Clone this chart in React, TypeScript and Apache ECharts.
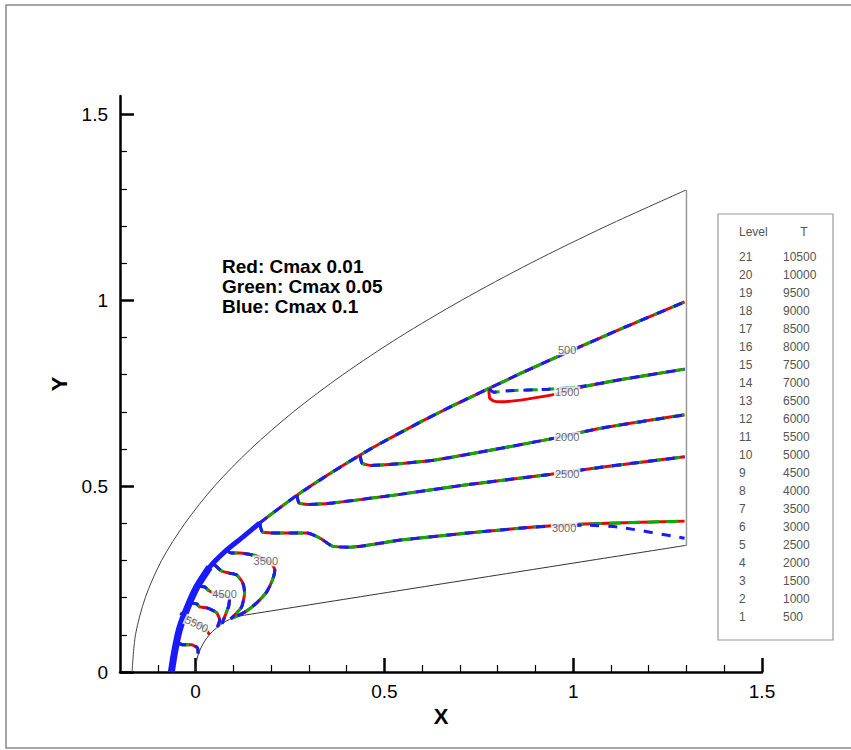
import React, { useEffect, useRef } from "react";
import * as echarts from "echarts";

// ---- axes ----
const X_MAJOR = [0, 0.5, 1, 1.5];
const X_MAJOR_LABELS = ["0", "0.5", "1", "1.5"];
const X_MINOR = [-0.1, 0.1, 0.2, 0.3, 0.4, 0.6, 0.7, 0.8, 0.9, 1.1, 1.2, 1.3, 1.4];
const Y_MAJOR = [0, 0.5, 1, 1.5];
const Y_MAJOR_LABELS = ["0", "0.5", "1", "1.5"];
const Y_MINOR = [0.1, 0.2, 0.3, 0.4, 0.6, 0.7, 0.8, 0.9, 1.1, 1.2, 1.3, 1.4];

// ---- domain boundaries ----
const OUTER_BOUNDARY = [
  [-0.168, 0], [-0.159, 0.1], [-0.133, 0.2], [-0.09, 0.3], [-0.028, 0.4], [0.05, 0.5],
  [0.146, 0.6], [0.259, 0.7], [0.39, 0.8], [0.538, 0.9], [0.704, 1.0], [0.887, 1.1],
  [1.088, 1.2], [1.299, 1.297],
];
const OUTFLOW_BOUNDARY = [[1.3, 0.341], [1.3, 1.297]];
const BODY = [
  [0, 0], [0.005, 0.04], [0.02, 0.076], [0.04, 0.104], [0.06, 0.122], [0.08, 0.136],
  [0.1, 0.146], [0.13, 0.153], [1.3, 0.341],
];

// ---- temperature contours ----
const C500_SHOCK = [
  [-0.064, 0], [-0.056, 0.051], [-0.043, 0.113], [-0.024, 0.167], [0.003, 0.228],
  [0.037, 0.282], [0.082, 0.328], [0.125, 0.363], [0.17, 0.401], [0.269, 0.476],
  [0.356, 0.534], [0.436, 0.584], [0.489, 0.615], [0.596, 0.673], [0.684, 0.718],
  [0.777, 0.763], [0.862, 0.804], [0.968, 0.853], [1.04, 0.885], [1.128, 0.924],
  [1.295, 0.996],
];
const C1500_RED = [
  [0.777, 0.763], [0.779, 0.737], [0.79, 0.729], [0.809, 0.727], [0.941, 0.745],
  [1.021, 0.766], [1.128, 0.787], [1.295, 0.815],
];
const C1500_BLUE = [
  [0.777, 0.763], [0.79, 0.753], [0.83, 0.757], [0.934, 0.761], [1.021, 0.768],
  [1.128, 0.787], [1.295, 0.815],
];
const C2000 = [
  [0.436, 0.584], [0.441, 0.562], [0.463, 0.556], [0.63, 0.57], [0.809, 0.602],
  [0.934, 0.626], [1.074, 0.656], [1.295, 0.692],
];
const C2500 = [
  [0.269, 0.476], [0.274, 0.455], [0.3, 0.451], [0.363, 0.455], [0.541, 0.478],
  [0.719, 0.504], [0.941, 0.532], [1.074, 0.551], [1.295, 0.579],
];
const C3000_RED = [
  [0.17, 0.401], [0.178, 0.376], [0.223, 0.374], [0.295, 0.374], [0.33, 0.36],
  [0.364, 0.338], [0.41, 0.336], [0.543, 0.355], [0.721, 0.374], [0.896, 0.39],
  [1.029, 0.398], [1.295, 0.406],
];
const C3000_BLUE = [
  [0.17, 0.401], [0.178, 0.376], [0.223, 0.374], [0.295, 0.374], [0.33, 0.36],
  [0.364, 0.338], [0.41, 0.336], [0.543, 0.355], [0.721, 0.374], [0.896, 0.39],
  [1.029, 0.395], [1.12, 0.39], [1.295, 0.36],
];
const C3500 = [
  [0.082, 0.328], [0.095, 0.32], [0.117, 0.32], [0.151, 0.315], [0.175, 0.307],
  [0.202, 0.291], [0.21, 0.274], [0.204, 0.248], [0.188, 0.215], [0.162, 0.186],
  [0.135, 0.164], [0.109, 0.15], [0.097, 0.145],
];
const C4000 = [
  [0.048, 0.291], [0.069, 0.272], [0.09, 0.266], [0.109, 0.261], [0.125, 0.24],
  [0.13, 0.213], [0.122, 0.175], [0.106, 0.156], [0.093, 0.143],
];
const C4500 = [
  [0.008, 0.231], [0.024, 0.229], [0.037, 0.218], [0.058, 0.21], [0.09, 0.199],
  [0.088, 0.178], [0.08, 0.156], [0.07, 0.13],
];
const C5000 = [
  [-0.016, 0.186], [0.003, 0.183], [0.011, 0.175], [0.032, 0.172], [0.056, 0.159],
  [0.064, 0.14], [0.058, 0.121],
];
const C5500 = [
  [-0.04, 0.159], [-0.024, 0.148], [0.003, 0.132], [0.024, 0.118], [0.037, 0.101],
];
const C6000 = [
  [-0.048, 0.078], [-0.032, 0.073], [-0.011, 0.073], [0.005, 0.065], [0.007, 0.05],
];

// ---- contour labels ----
const LABEL_TEXT = ["500", "1500", "2000", "2500", "3000", "3500", "4500", "5500"];
const LABEL_X = [0.984, 0.984, 0.984, 0.984, 0.976, 0.186, 0.077, 0.003];
const LABEL_Y = [0.867, 0.754, 0.632, 0.533, 0.388, 0.299, 0.21, 0.129];
const LABEL_ROT = [0, 0, 0, 0, 0, 0, 0, -25];

// ---- legend table ----
const LEVELS = [21, 20, 19, 18, 17, 16, 15, 14, 13, 12, 11, 10, 9, 8, 7, 6, 5, 4, 3, 2, 1];
const T_VALUES = [
  10500, 10000, 9500, 9000, 8500, 8000, 7500, 7000, 6500, 6000, 5500, 5000, 4500,
  4000, 3500, 3000, 2500, 2000, 1500, 1000, 500,
];
const NOTES = ["Red: Cmax 0.01", "Green: Cmax 0.05", "Blue: Cmax 0.1"];

const RED = "#f00000";
const GREEN = "#00b000";
const BLUE = "#1a1aff";
const FONT = "'Liberation Sans', Arial, Helvetica, sans-serif";

function line(data: number[][], color: string, width: number, type: any, z = 2, smooth = 0.2) {
  return {
    type: "line",
    data,
    xAxisIndex: 0,
    yAxisIndex: 0,
    showSymbol: false,
    symbol: "none",
    smooth,
    silent: true,
    z,
    lineStyle: { color, width, type, cap: "butt" },
  };
}

function contour(red: number[][], green: number[][], blue: number[][]) {
  return [
    line(red, RED, 3, "solid", 3),
    line(green, GREEN, 3, [12, 7], 4),
    line(blue, BLUE, 3, [9, 9], 5),
  ];
}

export default function App() {
  const ref = useRef<HTMLDivElement>(null);
  useEffect(() => {
    document.body.style.margin = "0";
    const chart = echarts.init(ref.current!, null, { renderer: "svg" });

    const series: any[] = [
      line(OUTER_BOUNDARY, "#444", 1, "solid", 1, 0.3),
      line(OUTFLOW_BOUNDARY, "#999", 1.5, "solid", 1, 0),
      line(BODY, "#333", 1, "solid", 1, 0.3),
      ...contour(C500_SHOCK, C500_SHOCK, C500_SHOCK),
      ...contour(C1500_RED, C1500_BLUE, C1500_BLUE),
      ...contour(C2000, C2000, C2000),
      ...contour(C2500, C2500, C2500),
      ...contour(C3000_RED, C3000_RED, C3000_BLUE),
      ...contour(C3500, C3500, C3500),
      ...contour(C4000, C4000, C4000),
      ...contour(C4500, C4500, C4500),
      ...contour(C5000, C5000, C5000),
      ...contour(C5500, C5500, C5500),
      ...contour(C6000, C6000, C6000),
      line(C500_SHOCK.slice(0, 6), BLUE, 7, "solid", 6),
      line(C500_SHOCK.slice(4, 9), BLUE, 5, "solid", 6),
      {
        type: "scatter",
        xAxisIndex: 0,
        yAxisIndex: 0,
        silent: true,
        z: 10,
        symbol: "circle",
        symbolSize: 2,
        itemStyle: { color: "rgba(255,255,255,0)" },
        labelLayout: { hideOverlap: false },
        data: LABEL_TEXT.map((t, i) => ({
          name: t,
          value: [LABEL_X[i], LABEL_Y[i]],
          label: { rotate: LABEL_ROT[i] },
        })),
        label: {
          show: true,
          position: "inside",
          formatter: (p: any) => p.name,
          fontSize: 11,
          fontFamily: FONT,
          color: "#444",
          backgroundColor: "#fff",
          padding: [0, 1],
        },
      },
    ];

    const legendRows: any[] = [];
    LEVELS.forEach((lv, i) => {
      const y = 257 + i * 18;
      legendRows.push({
        type: "text",
        x: 739,
        y,
        style: { text: String(lv), fontSize: 12, fontFamily: FONT, fill: "#555", align: "left", verticalAlign: "middle" },
      });
      legendRows.push({
        type: "text",
        x: 783,
        y,
        style: { text: String(T_VALUES[i]), fontSize: 12, fontFamily: FONT, fill: "#555", align: "left", verticalAlign: "middle" },
      });
    });

    const option: any = {
      animation: false,
      backgroundColor: "#fff",
      grid: { left: 120, right: 89, top: 96, bottom: 78, containLabel: false },
      xAxis: [
        {
          type: "value",
          min: -0.2,
          max: 1.5,
          position: "bottom",
          name: "X",
          nameLocation: "middle",
          nameGap: 29,
          nameTextStyle: { fontSize: 22, fontWeight: "bold", fontFamily: FONT, color: "#000" },
          axisLine: { show: true, onZero: false, lineStyle: { color: "#000", width: 2.5 } },
          axisTick: { show: true, inside: true, length: 14, customValues: X_MAJOR, lineStyle: { color: "#000", width: 2.5 } },
          axisLabel: {
            show: true,
            customValues: X_MAJOR,
            formatter: (v: number) => X_MAJOR_LABELS[X_MAJOR.findIndex((m) => Math.abs(m - v) < 1e-6)] ?? "",
            fontSize: 19,
            fontFamily: FONT,
            color: "#000",
            margin: 10,
          },
          splitLine: { show: false },
          minorTick: { show: false },
        },
        {
          type: "value",
          min: -0.2,
          max: 1.5,
          position: "bottom",
          axisLine: { show: false, onZero: false },
          axisTick: { show: true, inside: true, length: 7, customValues: X_MINOR, lineStyle: { color: "#000", width: 1.2 } },
          axisLabel: { show: false },
          splitLine: { show: false },
        },
      ],
      yAxis: [
        {
          type: "value",
          min: 0,
          max: 1.55,
          position: "left",
          name: "Y",
          nameLocation: "middle",
          nameGap: 49,
          nameTextStyle: { fontSize: 22, fontWeight: "bold", fontFamily: FONT, color: "#000" },
          axisLine: { show: true, onZero: false, lineStyle: { color: "#000", width: 2.5 } },
          axisTick: { show: true, inside: true, length: 14, customValues: Y_MAJOR, lineStyle: { color: "#000", width: 2.5 } },
          axisLabel: {
            show: true,
            customValues: Y_MAJOR,
            formatter: (v: number) => Y_MAJOR_LABELS[Y_MAJOR.findIndex((m) => Math.abs(m - v) < 1e-6)] ?? "",
            fontSize: 19,
            fontFamily: FONT,
            color: "#000",
            margin: 12,
          },
          splitLine: { show: false },
        },
        {
          type: "value",
          min: 0,
          max: 1.55,
          position: "left",
          axisLine: { show: false, onZero: false },
          axisTick: { show: true, inside: true, length: 7, customValues: Y_MINOR, lineStyle: { color: "#000", width: 1.2 } },
          axisLabel: { show: false },
          splitLine: { show: false },
        },
      ],
      series,
      graphic: [
        {
          type: "rect",
          shape: { x: 6, y: 5, width: 860, height: 743 },
          style: { fill: "none", stroke: "#888", lineWidth: 1.5 },
          silent: true,
          z: 0,
        },
        {
          type: "rect",
          shape: { x: 718, y: 214, width: 115, height: 426 },
          style: { fill: "#fff", stroke: "#999", lineWidth: 1.2 },
          silent: true,
          z: 20,
        },
        {
          type: "text",
          x: 739,
          y: 232,
          z: 21,
          style: { text: "Level", fontSize: 12, fontFamily: FONT, fill: "#555", align: "left", verticalAlign: "middle" },
        },
        {
          type: "text",
          x: 804,
          y: 232,
          z: 21,
          style: { text: "T", fontSize: 12, fontFamily: FONT, fill: "#555", align: "center", verticalAlign: "middle" },
        },
        ...legendRows.map((r) => ({ ...r, z: 21 })),
        ...NOTES.map((t, i) => ({
          type: "text",
          x: 222,
          y: 266 + i * 20,
          z: 21,
          style: { text: t, fontSize: 19, fontWeight: "bold", fontFamily: FONT, fill: "#000", align: "left", verticalAlign: "middle" },
        })),
      ],
    };

    chart.setOption(option);
    return () => chart.dispose();
  }, []);

  return (
    <div
      ref={ref}
      style={{ position: "absolute", left: 0, top: 0, width: 851, height: 750, background: "#fff" }}
    />
  );
}
